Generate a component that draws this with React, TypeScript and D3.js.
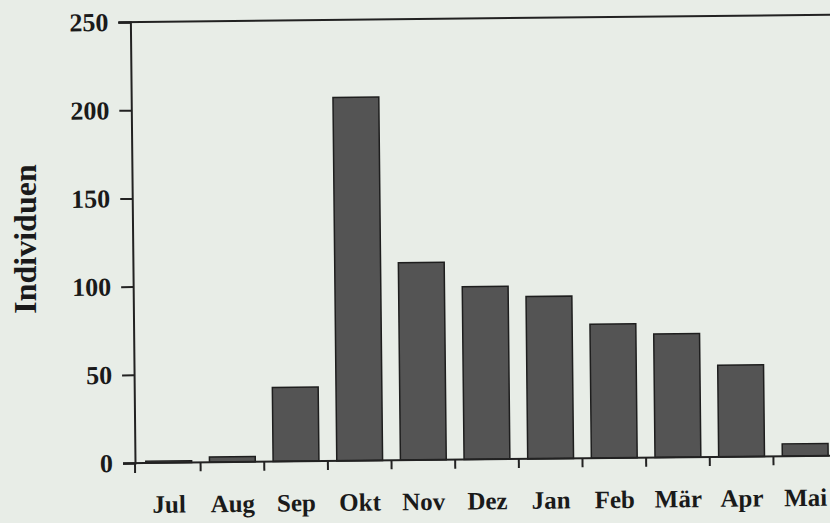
import React, { useEffect, useRef } from 'react';
import * as d3 from 'd3';

const months = ['Jul', 'Aug', 'Sep', 'Okt', 'Nov', 'Dez', 'Jan', 'Feb', 'Mär', 'Apr', 'Mai'];
const counts = [1, 3, 42, 206, 112, 98, 92, 76, 70, 52, 7];
const yTicks = [0, 50, 100, 150, 200, 250];

const App = () => {
  const ref = useRef(null);

  useEffect(() => {
    if (!ref.current) return;
    const svg = d3.select(ref.current);
    svg.selectAll('*').remove();

    const W = 830, H = 523;
    const x0 = 135, y0 = 463, yTop = 22;
    const step = 64;

    svg.append('rect').attr('width', W).attr('height', H).attr('fill', '#e8ede7');

    const x = d3.scaleBand()
      .domain(months)
      .range([x0, x0 + step * months.length])
      .paddingInner(0.28)
      .paddingOuter(0.17);
    const y = d3.scaleLinear().domain([0, 250]).range([y0, yTop]);

    // slight skew of the scanned page
    const g = svg.append('g').attr('transform', `rotate(-0.6, ${x0}, ${y0})`);

    const font = '"Liberation Serif", "DejaVu Serif", serif';

    // bars
    g.selectAll('.bar')
      .data(months.map((m, i) => ({ m, v: counts[i] })))
      .enter().append('rect')
      .attr('class', 'bar')
      .attr('x', d => x(d.m)!)
      .attr('width', x.bandwidth())
      .attr('y', d => y(d.v))
      .attr('height', d => y0 - y(d.v))
      .attr('fill', '#545454')
      .attr('stroke', '#1e1e1e')
      .attr('stroke-width', 1.5);

    // top frame line
    g.append('line')
      .attr('x1', x0 - 12).attr('x2', W + 20)
      .attr('y1', yTop).attr('y2', yTop)
      .attr('stroke', '#222').attr('stroke-width', 2);

    // y axis
    const yAxis = g.append('g')
      .attr('transform', `translate(${x0},0)`)
      .call(d3.axisLeft(y).tickValues(yTicks).tickSize(12).tickPadding(10));
    yAxis.select('.domain').attr('stroke', '#222').attr('stroke-width', 2);
    yAxis.selectAll('.tick line').attr('stroke', '#222').attr('stroke-width', 2);
    yAxis.selectAll('.tick text')
      .attr('font-family', font)
      .attr('font-weight', 'bold')
      .attr('font-size', 26)
      .attr('fill', '#1a1a1a');
    // extend y axis a bit below zero
    g.append('line')
      .attr('x1', x0).attr('x2', x0)
      .attr('y1', y0).attr('y2', y0 + 10)
      .attr('stroke', '#222').attr('stroke-width', 2);

    // x axis line
    g.append('line')
      .attr('x1', x0 - 12).attr('x2', W + 20)
      .attr('y1', y0).attr('y2', y0)
      .attr('stroke', '#222').attr('stroke-width', 2);

    // x ticks between categories
    g.selectAll('.xtick')
      .data(months.slice(1))
      .enter().append('line')
      .attr('class', 'xtick')
      .attr('x1', d => x(d)! - x.step() * x.paddingInner() / 2)
      .attr('x2', d => x(d)! - x.step() * x.paddingInner() / 2)
      .attr('y1', y0).attr('y2', y0 + 9)
      .attr('stroke', '#222').attr('stroke-width', 2);

    // month labels
    g.selectAll('.xlabel')
      .data(months)
      .enter().append('text')
      .attr('class', 'xlabel')
      .attr('x', d => x(d)! + x.bandwidth() / 2)
      .attr('y', y0 + 50)
      .attr('text-anchor', 'middle')
      .attr('font-family', font)
      .attr('font-weight', 'bold')
      .attr('font-size', 25)
      .attr('fill', '#1a1a1a')
      .text(d => d);

    // y label
    svg.append('text')
      .attr('transform', 'translate(36,239) rotate(-90)')
      .attr('text-anchor', 'middle')
      .attr('font-family', font)
      .attr('font-weight', 'bold')
      .attr('font-size', 32)
      .attr('fill', '#1a1a1a')
      .text('Individuen');
  }, []);

  return (
    <svg
      ref={ref}
      width={830}
      height={523}
      style={{ position: 'fixed', left: 0, top: 0, display: 'block' }}
    />
  );
};

export default App;
